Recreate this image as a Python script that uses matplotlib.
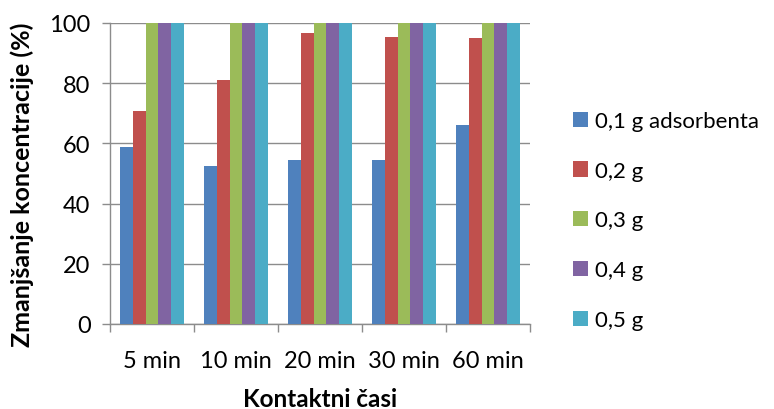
import matplotlib
matplotlib.use("Agg")
import matplotlib.pyplot as plt
import numpy as np

plt.rcParams['font.family'] = ['Lato', 'DejaVu Sans']

categories = ["5 min", "10 min", "20 min", "30 min", "60 min"]
series_names = ["0,1 g adsorbenta", "0,2 g", "0,3 g", "0,4 g", "0,5 g"]
s01 = [58.7, 52.6, 54.6, 54.6, 66.0]
s02 = [70.6, 81.2, 96.8, 95.3, 95.0]
s03 = [100, 100, 100, 100, 100]
s04 = [100, 100, 100, 100, 100]
s05 = [100, 100, 100, 100, 100]
colors = ["#4F81BD", "#C0504D", "#9BBB59", "#8064A2", "#4BACC6"]

W, H = 774, 410
fig = plt.figure(figsize=(W / 100, H / 100), dpi=100)
ax = fig.add_axes([110 / W, 85 / H, 420 / W, 301 / H])

x = np.arange(len(categories))
bw = 0.152
data = [s01, s02, s03, s04, s05]
for i, (vals, c, name) in enumerate(zip(data, colors, series_names)):
    ax.bar(x + (i - 2) * bw, vals, width=bw, color=c, label=name, zorder=3)

grid_c = "#8C8C8C"
ax.set_xlim(-0.5, len(categories) - 0.5)
ax.set_ylim(0, 100)
ax.set_yticks(range(0, 101, 20))
ax.yaxis.grid(True, color=grid_c, linewidth=1.0, zorder=0)
ax.set_axisbelow(True)

# category boundaries carry the tick marks, category centres carry the labels
ax.set_xticks(np.arange(-0.5, len(categories), 1.0))
ax.set_xticklabels([])
ax.set_xticks(x, minor=True)
ax.set_xticklabels(categories, minor=True)
ax.tick_params(axis='x', which='major', length=6, color=grid_c, width=1.0)
ax.tick_params(axis='x', which='minor', length=0, pad=19, labelsize=17)
ax.tick_params(axis='y', length=6, color=grid_c, width=1.0, labelsize=17, pad=8)

for s in ["top", "right"]:
    ax.spines[s].set_visible(False)
for s in ["left", "bottom"]:
    ax.spines[s].set_color(grid_c)
    ax.spines[s].set_linewidth(1.0)

fig.text(22 / W, 1 - 185 / H, "Zmanjšanje koncentracije (%)", rotation=90,
         fontsize=18, fontweight='bold', ha='center', va='center')
fig.text(320 / W, 1 - 400 / H, "Kontaktni časi",
         fontsize=17.5, fontweight='bold', ha='center', va='center')

fs_leg = 16
leg = fig.legend(*ax.get_legend_handles_labels(), loc='center left',
                 bbox_to_anchor=(553 / W, 1 - 221.5 / H), frameon=False,
                 fontsize=fs_leg, handlelength=0.68, handleheight=0.68,
                 handletextpad=0.3, labelspacing=1.34, borderpad=0.4)

fig.savefig("out.png", dpi=100)
